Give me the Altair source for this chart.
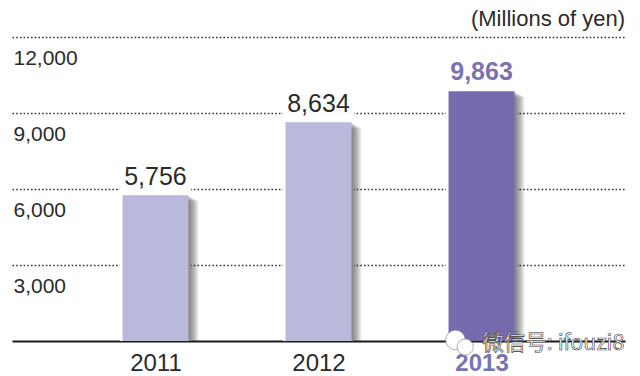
import altair as alt
import pandas as pd

years = [2011, 2012, 2013]
values = [5756, 8634, 9863]
grid_values = [3000, 6000, 9000, 12000]
unit_label = "(Millions of yen)"
watermark_text = "微信号: ifouzi8"
bubble_years = [2012.84, 2012.90]
bubble_values = [40, -240]
bubble_sizes = [380, 260]
watermark_year = [2013.005]
watermark_value = [-120]

FONT = "Liberation Sans"
INK = "#2b2b2b"
LIGHT = "#b9b9dc"
DARK = "#746cae"
LABEL_PURPLE = "#7b73b1"

df = pd.DataFrame({"year": years, "value": values})

x_scale = alt.Scale(domain=[2010.12, 2013.88], nice=False, zero=False, padding=0)
y_scale = alt.Scale(domain=[0, 12000], nice=False, padding=0)

x = alt.X(
    "year:Q",
    scale=x_scale,
    axis=alt.Axis(
        title=None, values=years, format="d", grid=False, ticks=False,
        domainColor="#1a1a1a", domainWidth=2,
        labelFont=FONT, labelFontSize=24, labelPadding=10,
        labelColor=alt.expr(f"datum.value == 2013 ? '{LABEL_PURPLE}' : '{INK}'"),
        labelFontWeight=alt.expr("datum.value == 2013 ? 'bold' : 'normal'"),
    ),
)
y = alt.Y(
    "value:Q",
    stack=None,
    scale=y_scale,
    axis=alt.Axis(
        title=None, values=grid_values, domain=False, ticks=False,
        labelExpr="format(datum.value, ',')",
        grid=True, gridColor="#333333", gridWidth=1.5, gridDash=[1.6, 2.1],
        labelFont=FONT, labelFontSize=21, labelColor=INK,
        labelAlign="left", labelPadding=-1, labelOffset=21,
    ),
)

base = alt.Chart(df).encode(x=x, y=y)

halo = base.mark_bar(size=71, color="white", yOffset=-10)
shadows = [
    base.mark_bar(size=66, color="#222222", opacity=0.07, xOffset=k, yOffset=k * 0.6)
    for k in range(1, 11)
]
bars = base.mark_bar(size=66).encode(
    color=alt.condition(alt.datum.year == 2013, alt.value(DARK), alt.value(LIGHT))
)
labels_plain = base.transform_filter(alt.datum.year != 2013).mark_text(
    font=FONT, fontSize=25, baseline="alphabetic", dy=-10, color=INK
).encode(text=alt.Text("value:Q", format=","))
labels_bold = base.transform_filter(alt.datum.year == 2013).mark_text(
    font=FONT, fontSize=25, fontWeight="bold", baseline="alphabetic", dy=-11, color=LABEL_PURPLE
).encode(text=alt.Text("value:Q", format=","))

bubbles = alt.Chart(pd.DataFrame({
    "year": bubble_years, "value": bubble_values, "size": bubble_sizes,
})).mark_point(filled=True, fill="white", stroke="#999999", strokeWidth=0.8, opacity=1).encode(
    x=x, y=y,
    size=alt.Size("size:Q", scale=None, legend=None),
)
watermark = alt.Chart(pd.DataFrame({
    "year": watermark_year, "value": watermark_value, "t": [watermark_text],
})).mark_text(
    font="Noto Sans CJK SC", fontSize=21.5, align="left", baseline="middle",
    color="white", stroke="#333333", strokeWidth=0.6,
).encode(x=x, y=y, text="t:N")

chart = alt.layer(halo, *shadows, bars, labels_plain, labels_bold, bubbles, watermark).properties(
    width=613,
    height=304,
    autosize=alt.AutoSizeParams(type="none"),
    padding={"left": 4, "top": 29, "right": 3, "bottom": 34},
    background="white",
    title=alt.TitleParams(
        text=unit_label, anchor="end", frame="group", font=FONT, fontSize=22,
        fontWeight="normal", color=INK, offset=6,
    ),
).configure_view(stroke=None)

chart.save("out.html", embed_options={"renderer": "svg", "actions": False})
